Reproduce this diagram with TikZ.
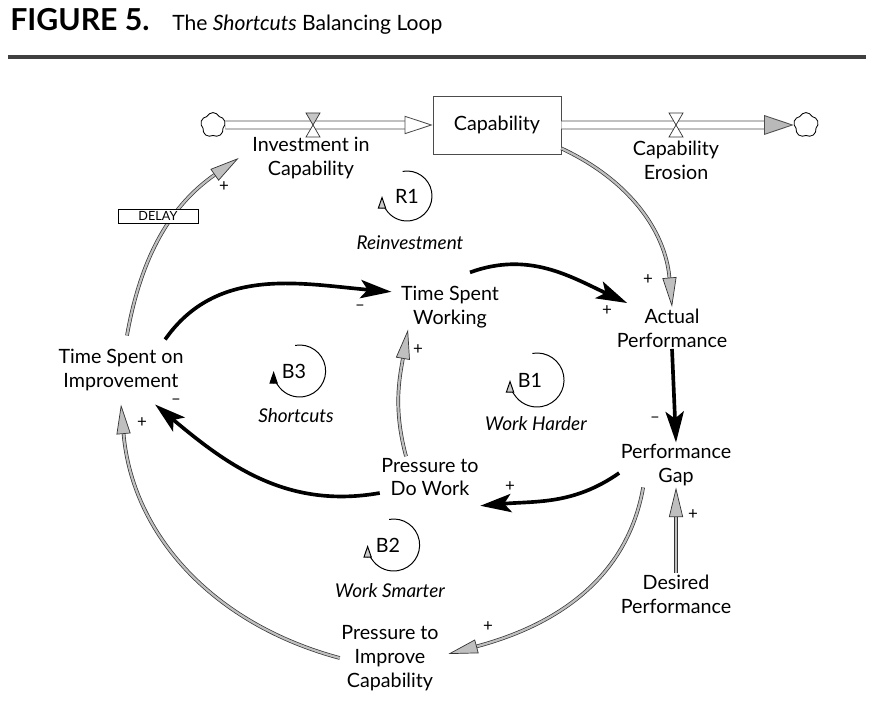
\documentclass[tikz,border=0pt]{standalone}
\usepackage{fontspec}
\setmainfont{Lato}
\usepackage{tikz}
\usetikzlibrary{arrows.meta, positioning, shapes.symbols, shapes.geometric}
\tikzset{
	x=0.025cm, y=0.025cm, % one unit is one pixel of the scan
	var/.style={align=center, font=\fontsize{14}{17}\selectfont, inner sep=1pt}, % the variables
	looptag/.style={font=\fontsize{14}{16}\selectfont, inner sep=0pt}, % R1, B1 ...
	loopname/.style={font=\fontsize{13.5}{16}\selectfont\itshape, inner sep=0pt}, % names of the loops
	sign/.style={font=\fontsize{12}{12}\selectfont, inner sep=0pt}, % polarity of a link
	blk/.style={line width=2.6pt, -{Stealth[length=22pt, width=13pt, inset=5pt]}}, % black links
	gry/.style={draw=black!80, line width=0.5pt, double=gray!50, double distance=1.6pt,
		-{Triangle[length=21pt, width=10pt, fill=gray!50]}}, % grey links
	pipe/.style={draw=black!70, line width=0.6pt, double=white, double distance=5pt}, % flow pipes
	loopmark/.style={line width=0.7pt, -{Triangle[length=9pt, width=6pt, fill=gray!40]}}, % loop direction
	stock/.style={draw=black!70, minimum width=3.2cm, minimum height=1.45cm, font=\fontsize{14}{17}\selectfont},
	source/.style={cloud, draw, cloud puffs=5, cloud puff arc=130, aspect=1, minimum size=0.62cm,
		inner sep=0pt, line width=0.6pt}, % sources and sinks
	delaybox/.style={draw, fill=white, minimum width=2cm, minimum height=0.35cm, inner sep=0pt,
		font=\fontsize{9}{9}\selectfont},
	valve/.style={draw=black!80, line width=0.5pt, fill=white},
}

\begin{document}
\begin{tikzpicture}
		\useasboundingbox (0,0) rectangle (872,-707);
		
		\node[anchor=base west, inner sep=0pt, font=\fontsize{21.5}{21.5}\selectfont\bfseries] (fig) at (10,-31) {FIGURE 5.};
		\node[anchor=base west, inner sep=0pt, font=\fontsize{15}{15}\selectfont] (title) at (172,-31) {The \textit{Shortcuts} Balancing Loop};
		\draw[line width=3pt, black!75] (8,-57) -- (866,-57);
		
		\node[stock] (cap) at (497,-125) {Capability};
		\node[source] (srcL) at (213,-125) {};
		\node[source] (sinkR) at (806,-125) {};
		\draw[pipe, -{Triangle[open, length=20pt, width=13pt, line width=0.6pt]}] (srcL.east) -- (cap.west);
		\draw[pipe, -{Triangle[length=21pt, width=14pt, fill=gray!55, line width=0.6pt]}] (cap.east) -- (sinkR.west);
		\coordinate (vin) at (313,-125);
		\coordinate (vout) at (676,-125);
		\draw[valve, fill=gray!45] ([shift={(-7,12)}]vin) -- ([shift={(7,12)}]vin) -- (vin) -- cycle;
		\draw[valve] ([shift={(-7,-12)}]vin) -- ([shift={(7,-12)}]vin) -- (vin) -- cycle;
		\draw[valve] ([shift={(-7,12)}]vout) -- ([shift={(7,12)}]vout) -- (vout) -- cycle;
		\draw[valve] ([shift={(-7,-12)}]vout) -- ([shift={(7,-12)}]vout) -- (vout) -- cycle;
		\node[var] (inv) at (311,-158) {Investment in\\Capability};
		\node[var] (ero) at (676,-160) {Capability\\Erosion};
		
		\node[var] (tsw) at (450,-307) {Time Spent\\Working};
		\node[var] (ap) at (672,-328) {Actual\\Performance};
		\node[var] (tsi) at (121,-370) {Time Spent on\\Improvement};
		\node[var] (pg) at (676,-465) {Performance\\Gap};
		\node[var] (pdw) at (430,-477) {Pressure to\\Do Work};
		\node[var] (dp) at (676,-594) {Desired\\Performance};
		\node[var] (pimp) at (390,-658) {Pressure to\\Improve\\Capability};
		
		\draw[gry] (cap.-20) to[out=-25, in=95] (ap.north);
		\draw[blk] ([shift={(0.5cm,0.3cm)}]tsw.north) to[out=20, in=155] ([shift={(0.3cm,0.1cm)}]ap.north west);
		\draw[blk] (ap.south) -- (pg.north);
		\draw[gry] (dp.north) -- (pg.south);
		\draw[blk] ([yshift=-0.2cm]pg.west) to[out=-145, in=5] ([yshift=-0.2cm]pdw.south east);
		\draw[gry] ([xshift=0.6cm]pg.south west) to[out=-100, in=15] ([shift={(0.2cm,0.1cm)}]pimp.east);
		\draw[gry] ([xshift=-0.6cm]pdw.north) to[out=105, in=-100] ([xshift=-1.05cm]tsw.south);
		\draw[blk] ([yshift=-0.4cm]pdw.west) to[out=190, in=-40] ([shift={(-0.75cm,-0.3cm)}]tsi.south east);
		\draw[gry] (pimp.west) to[out=165, in=-85] ([yshift=-0.3cm]tsi.south);
		\draw[blk] ([shift={(-0.5cm,0.2cm)}]tsi.north east) to[out=55, in=175] ([shift={(-0.2cm,0.38cm)}]tsw.west);
		\draw[gry] ([shift={(0.15cm,0.3cm)}]tsi.north) to[out=80, in=-145] ([xshift=-0.3cm]inv.west);
		\node[delaybox] (delay) at (158,-216) {DELAY};
		
		\node[sign] (s1) at (224,-187) {+};
		\node[sign] (s2) at (648,-280) {+};
		\node[sign] (s3) at (607,-311) {+};
		\node[sign] (s4) at (360,-308) {--};
		\node[sign] (s5) at (418,-350) {+};
		\node[sign] (s6) at (655,-420) {--};
		\node[sign] (s7) at (693,-515) {+};
		\node[sign] (s8) at (510,-487) {+};
		\node[sign] (s9) at (488,-627) {+};
		\node[sign] (s10) at (176,-402) {--};
		\node[sign] (s11) at (142,-423) {+};
		
		\node[looptag] (r1) at (407,-196) {R1};
		\draw[loopmark] (r1) ++(100:25) arc[start angle=100, end angle=-180, radius=25];
		\node[loopname] (r1n) at (410,-243) {Reinvestment};
		\node[looptag] (b3) at (294,-371) {B3};
		\draw[loopmark, -{Triangle[length=9pt, width=6pt, fill=black]}] ([xshift=4]b3) ++(100:26) arc[start angle=100, end angle=-180, radius=26];
		\node[loopname] (b3n) at (296,-416) {Shortcuts};
		\node[looptag] (b1) at (530,-380) {B1};
		\draw[loopmark] ([xshift=5]b1) ++(100:27) arc[start angle=100, end angle=-180, radius=27];
		\node[loopname] (b1n) at (536,-424) {Work Harder};
		\node[looptag] (b2) at (388,-545) {B2};
		\draw[loopmark] ([xshift=4]b2) ++(100:26) arc[start angle=100, end angle=-180, radius=26];
		\node[loopname] (b2n) at (390,-591) {Work Smarter};
\end{tikzpicture}
\end{document}
